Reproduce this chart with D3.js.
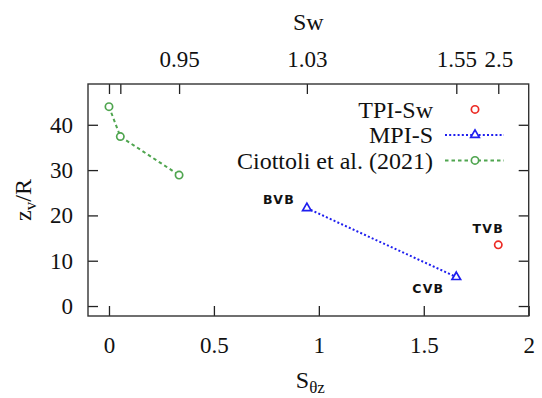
<!DOCTYPE html>
<html lang="en">
  <head>
    <meta charset="UTF-8" />
    <title>zv/R vs S theta z</title>
    <style type="text/css">
      html,
      body {
        margin: 0;
        padding: 0;
        background: #fff;
      }
      svg {
        display: block;
      }
      .serif {
        font-family: "Liberation Serif", "DejaVu Serif", "Times New Roman", serif;
        fill: #111;
      }
      .note {
        font-family: "DejaVu Sans", sans-serif;
        font-weight: bold;
        font-size: 12.5px;
        letter-spacing: 1.2px;
        fill: #111;
      }
    </style>
  </head>
  <body>
    <div id="chart"></div>
    <script src="https://cdn.jsdelivr.net/npm/d3@7"></script>
    <script>
      // === Data === //

      var tpiX = [1.855];
      var tpiY = [13.5];
      var tpiNote = ["TVB"];

      var mpiX = [0.943, 1.655];
      var mpiY = [21.6, 6.4];
      var mpiNote = ["BVB", "CVB"];

      var ciottoliX = [0.0, 0.054, 0.334];
      var ciottoliY = [44.0, 37.4, 28.9];

      // top axis: Sw value at each case position
      var swTicks = [0.0, 0.054, 0.334, 0.943, 1.655, 1.855];
      var swLabels = ["", "", "0.95", "1.03", "1.55", "2.5"];

      var xTicks = [0, 0.5, 1, 1.5, 2];
      var yTicks = [0, 10, 20, 30, 40];

      var seriesNames = ["TPI-Sw", "MPI-S", "Ciottoli et al. (2021)"];

      // === Layout === //

      var width = 542,
        height = 398;
      var margin = { top: 84, right: 13.3, bottom: 82, left: 88 };
      var w = width - margin.left - margin.right,
        h = height - margin.top - margin.bottom;

      var serifFont = '"Liberation Serif", "DejaVu Serif", "Times New Roman", serif';
      var tickFont = 23,
        titleFont = 24;

      var colRed = "#ec2a24",
        colBlue = "#1f1fef",
        colGreen = "#4fa54f";

      var svg = d3
        .select("#chart")
        .append("svg")
        .attr("width", width)
        .attr("height", height);

      var g = svg
        .append("g")
        .attr("transform", "translate(" + margin.left + "," + margin.top + ")");

      var x = d3.scaleLinear().domain([-0.1, 2]).range([0, w]);
      var y = d3.scaleLinear().domain([-2.2, 49]).range([h, 0]);

      // === Axes === //

      function styleAxis(sel) {
        sel.select(".domain").remove();
        sel.attr("font-family", serifFont).attr("font-size", tickFont);
        sel.selectAll(".tick line").attr("stroke", "#222").attr("stroke-width", 1.3);
        sel.selectAll(".tick text").attr("fill", "#111");
      }

      g.append("g")
        .attr("transform", "translate(0," + h + ")")
        .call(
          d3
            .axisBottom(x)
            .tickValues(xTicks)
            .tickFormat(d3.format("~g"))
            .tickSizeInner(-10)
            .tickSizeOuter(0)
            .tickPadding(21)
        )
        .call(styleAxis);

      g.append("g")
        .call(
          d3
            .axisLeft(y)
            .tickValues(yTicks)
            .tickSizeInner(-10)
            .tickSizeOuter(0)
            .tickPadding(15)
        )
        .call(styleAxis);

      g.append("g")
        .attr("transform", "translate(" + w + ",0)")
        .call(
          d3
            .axisRight(y)
            .tickValues(yTicks)
            .tickFormat("")
            .tickSizeInner(-10)
            .tickSizeOuter(0)
        )
        .call(styleAxis);

      g.append("g")
        .call(
          d3
            .axisTop(x)
            .tickValues(swTicks)
            .tickFormat(function(d, i) {
              return swLabels[i];
            })
            .tickSizeInner(-10)
            .tickSizeOuter(0)
            .tickPadding(17.5)
        )
        .call(styleAxis);

      // frame
      g.append("rect")
        .attr("width", w)
        .attr("height", h)
        .attr("fill", "none")
        .attr("stroke", "#333")
        .attr("stroke-width", 1.4);

      // === Titles === //

      svg
        .append("text")
        .attr("class", "serif")
        .attr("x", margin.left + w / 2)
        .attr("y", 29.5)
        .attr("text-anchor", "middle")
        .attr("font-size", titleFont)
        .text("Sw");

      var xt = svg
        .append("text")
        .attr("class", "serif")
        .attr("x", margin.left + w / 2 + 2)
        .attr("y", 388)
        .attr("text-anchor", "middle")
        .attr("font-size", titleFont);
      xt.append("tspan").text("S");
      xt.append("tspan")
        .attr("font-size", 17)
        .attr("dy", 5)
        .text("θz");

      var yt = svg
        .append("text")
        .attr("class", "serif")
        .attr("transform", "translate(31," + (margin.top + h / 2) + ") rotate(-90)")
        .attr("text-anchor", "middle")
        .attr("font-size", titleFont);
      yt.append("tspan").text("z");
      yt.append("tspan")
        .attr("font-size", 17)
        .attr("dy", 5)
        .text("v");
      yt.append("tspan")
        .attr("dy", -5)
        .text("/R");

      // === Series === //

      function zip(xs, ys, notes) {
        return xs.map(function(d, i) {
          return { x: d, y: ys[i], note: notes ? notes[i] : null };
        });
      }

      var tpi = zip(tpiX, tpiY, tpiNote);
      var mpi = zip(mpiX, mpiY, mpiNote);
      var ciot = zip(ciottoliX, ciottoliY);

      var line = d3
        .line()
        .x(function(d) {
          return x(d.x);
        })
        .y(function(d) {
          return y(d.y);
        });

      g.append("path")
        .datum(mpi)
        .attr("d", line)
        .attr("fill", "none")
        .attr("stroke", colBlue)
        .attr("stroke-width", 2)
        .attr("stroke-dasharray", "2,2.2");

      g.append("path")
        .datum(ciot)
        .attr("d", line)
        .attr("fill", "none")
        .attr("stroke", colGreen)
        .attr("stroke-width", 2)
        .attr("stroke-dasharray", "3.5,3");

      var circleSym = d3.symbol().type(d3.symbolCircle).size(42);
      var triSym = d3.symbol().type(d3.symbolTriangle).size(32);

      function markers(data, sym, col) {
        g.selectAll(null)
          .data(data)
          .enter()
          .append("path")
          .attr("d", sym)
          .attr("transform", function(d) {
            return "translate(" + x(d.x) + "," + y(d.y) + ")";
          })
          .attr("fill", "#fff")
          .attr("stroke", col)
          .attr("stroke-width", 1.7);
      }

      markers(tpi, circleSym, colRed);
      markers(mpi, triSym, colBlue);
      markers(ciot, circleSym, colGreen);

      // case labels
      var noteOffset = {
        BVB: [-12, -4, "end"],
        CVB: [-12, 15.5, "end"],
        TVB: [-10, -12, "middle"]
      };
      g.selectAll(null)
        .data(mpi.concat(tpi))
        .enter()
        .append("text")
        .attr("class", "note")
        .attr("x", function(d) {
          return x(d.x) + noteOffset[d.note][0];
        })
        .attr("y", function(d) {
          return y(d.y) + noteOffset[d.note][1];
        })
        .attr("text-anchor", function(d) {
          return noteOffset[d.note][2];
        })
        .text(function(d) {
          return d.note;
        });

      // === Legend === //

      var legend = svg.append("g").attr("transform", "translate(433,117.7)");
      var legendStyle = [
        { col: colRed, sym: circleSym, dash: null },
        { col: colBlue, sym: triSym, dash: "2,2.2" },
        { col: colGreen, sym: circleSym, dash: "3.5,3" }
      ];

      seriesNames.forEach(function(name, i) {
        var row = legend.append("g").attr("transform", "translate(0," + i * 25.5 + ")");
        row
          .append("text")
          .attr("class", "serif")
          .attr("font-size", titleFont)
          .attr("text-anchor", "end")
          .text(name);
        var s = legendStyle[i];
        var sample = row.append("g").attr("transform", "translate(0,-8.3)");
        if (s.dash) {
          sample
            .append("line")
            .attr("x1", 12)
            .attr("x2", 71)
            .attr("stroke", s.col)
            .attr("stroke-width", 2)
            .attr("stroke-dasharray", s.dash);
        }
        sample
          .append("path")
          .attr("d", s.sym)
          .attr("transform", "translate(42,0)")
          .attr("fill", "#fff")
          .attr("stroke", s.col)
          .attr("stroke-width", 1.7);
      });
    </script>
  </body>
</html>
